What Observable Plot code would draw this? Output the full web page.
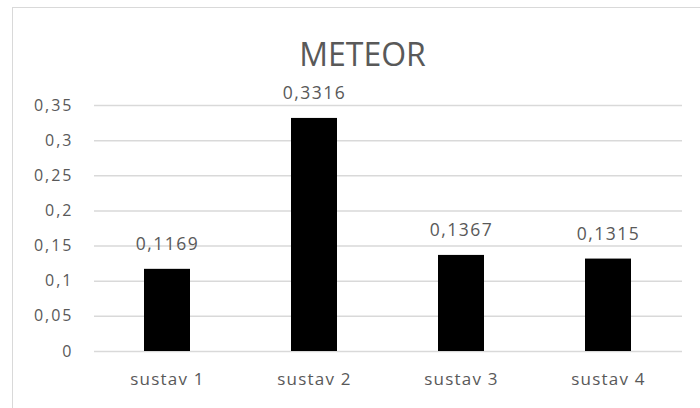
<!DOCTYPE html>
<html>
<head>
<meta charset="utf-8">
<script src="https://cdn.jsdelivr.net/npm/d3@7"></script>
<script src="https://cdn.jsdelivr.net/npm/@observablehq/plot@0.6"></script>
<style>
  html, body { margin: 0; padding: 0; background: #fff; overflow: hidden; }
  #wrap { position: relative; width: 700px; height: 408px; overflow: hidden; }
  #frame { position: absolute; left: 12px; top: 7px; width: 720px; height: 440px; border: 1px solid #d9d9d9; box-sizing: border-box; pointer-events: none; }
  #chart { position: absolute; left: 0; top: 0; }
  svg text { font-family: "Open Sans", sans-serif; fill: #595959; }
</style>
</head>
<body>
<div id="wrap">
  <div id="frame"></div>
  <div id="chart"></div>
</div>
<script>
const title = "METEOR";
const categories = ["sustav 1", "sustav 2", "sustav 3", "sustav 4"];
const values = [0.1169, 0.3316, 0.1367, 0.1315];
const yTicks = [0, 0.05, 0.1, 0.15, 0.2, 0.25, 0.3, 0.35];

const data = categories.map((c, i) => ({ category: c, value: values[i] }));
const comma = (d) => String(d).replace(".", ",");

const chart = Plot.plot({
  width: 700,
  height: 408,
  marginTop: 105,
  marginBottom: 57,
  marginLeft: 94,
  marginRight: 18,
  style: { background: "transparent", overflow: "visible" },
  x: { domain: categories, paddingInner: 0.687, paddingOuter: 0.3435, label: null },
  y: { domain: [0, 0.35], label: null },
  marks: [
    Plot.ruleY(yTicks, { stroke: "#d9d9d9", strokeWidth: 1.5 }),
    Plot.axisY({ ticks: yTicks, tickSize: 0, tickPadding: 21, tickFormat: comma, label: null }),
    Plot.axisX({ tickSize: 0, tickPadding: 21, label: null }),
    Plot.barY(data, { x: "category", y: "value", fill: "#000" }),
    Plot.text(data, { x: "category", y: "value", text: (d) => comma(d.value), dy: -25 }),
    Plot.text([title], { frameAnchor: "top", dx: -26, dy: -62 })
  ]
});

const svg = d3.select(chart);
svg.selectAll('g[aria-label="y-axis tick label"]').attr("font-size", 16).style("letter-spacing", "2px");
svg.selectAll('g[aria-label="x-axis tick label"]').attr("font-size", 17).style("letter-spacing", "1.2px");
const texts = svg.selectAll('g[aria-label="text"]').nodes();
d3.select(texts[0]).attr("font-size", 17.5).style("letter-spacing", "1.5px");
d3.select(texts[1]).attr("font-size", 32);
document.getElementById("chart").appendChild(chart);
</script>
</body>
</html>
